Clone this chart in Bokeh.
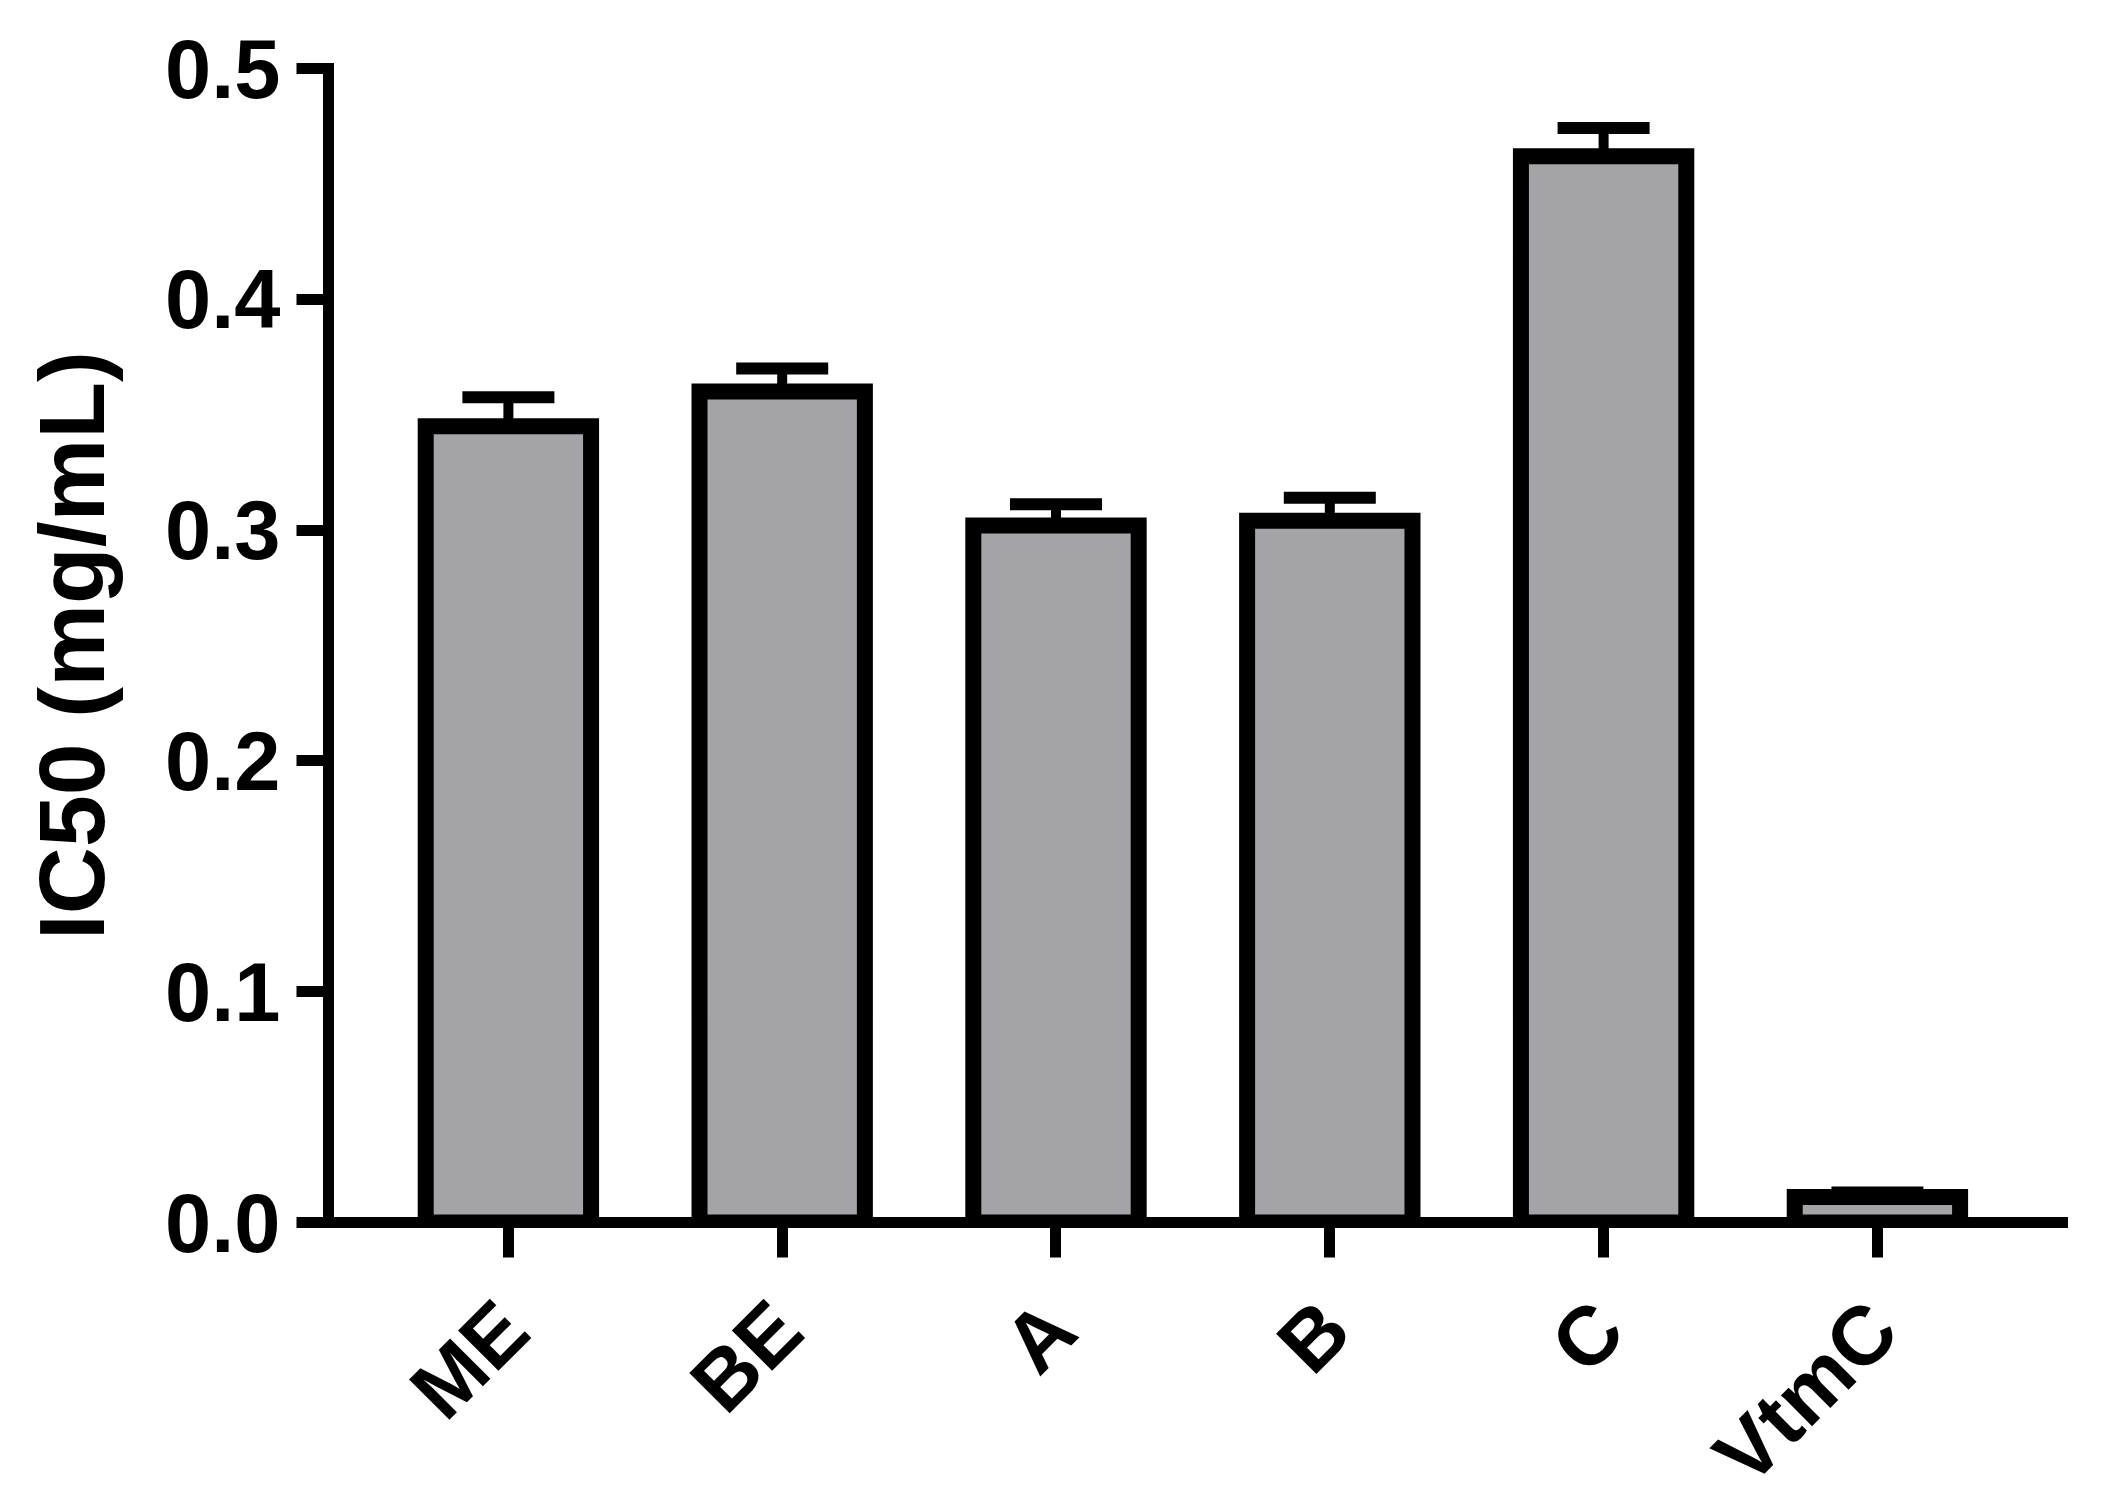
import math
from bokeh.plotting import figure
from bokeh.layouts import column
from bokeh.models import ColumnDataSource, FixedTicker, NumeralTickFormatter, Range1d
from bokeh.core.properties import value
from bokeh.embed import file_html
from bokeh.resources import INLINE

# ---- data ----
categories = ["ME", "BE", "A", "B", "C", "VtmC"]
ic50_mean = [0.345, 0.360, 0.302, 0.304, 0.462, 0.011]
ic50_sd = [0.0126, 0.0100, 0.0092, 0.0100, 0.0122, 0.0020]
y_ticks = [0.0, 0.1, 0.2, 0.3, 0.4, 0.5]
y_title = "IC50 (mg/mL)"

# ---- layout / styling constants ----
FONT = "Liberation Sans"
BAR_W = 0.604
CAP_HALF = 0.168
FIG_W = 2088
B_LEFT, B_RIGHT, B_TOP = 328, 26, 68
AXIS_PX = 1222                      # pixel row of y = 0 (bottom of the plot frame)
H1 = 1282                           # main figure height (frame + tick area)
H2 = 212                            # strip below holding the rotated category names
LABEL_DROP_PX = 93                  # distance of each name's end below the axis
label_y = -(AXIS_PX + LABEL_DROP_PX - H1)

xs = list(range(len(categories)))
upper = [m + s for m, s in zip(ic50_mean, ic50_sd)]
src = ColumnDataSource(dict(
    x=xs, top=ic50_mean, upper=upper,
    cap_l=[i - CAP_HALF for i in xs], cap_r=[i + CAP_HALF for i in xs],
))
lab_src = ColumnDataSource(dict(x=xs, y=[label_y] * len(xs), text=categories))

x_range = Range1d(-0.657, 5.676)

p = figure(width=FIG_W, height=H1,
           x_range=x_range, y_range=Range1d(0, 0.5),
           output_backend="svg", toolbar_location=None,
           min_border_left=B_LEFT, min_border_right=B_RIGHT,
           min_border_top=B_TOP, min_border_bottom=H1 - AXIS_PX)
p.outline_line_color = None
p.grid.visible = False
p.background_fill_color = "white"
p.border_fill_color = "white"

p.vbar(x="x", top="top", bottom=0, width=BAR_W, source=src,
       fill_color="#a4a3a8", line_color="black", line_width=16, line_join="miter")
p.segment(x0="x", y0="top", x1="x", y1="upper", source=src,
          line_color="black", line_width=10)
p.segment(x0="cap_l", y0="upper", x1="cap_r", y1="upper", source=src,
          line_color="black", line_width=12)

# x axis: ticks only (names drawn in the strip below)
xa = p.xaxis[0]
xa.ticker = FixedTicker(ticks=xs)
xa.major_label_overrides = {i: "" for i in xs}
xa.major_label_text_font_size = "1px"
xa.major_label_standoff = 0
xa.major_tick_out = 35
xa.major_tick_in = 0
xa.major_tick_line_width = 11
xa.major_tick_line_color = "black"
xa.minor_tick_line_color = None
xa.axis_line_width = 11
xa.axis_line_color = "black"
xa.axis_line_cap = "square"

# y axis
ya = p.yaxis[0]
ya.ticker = FixedTicker(ticks=y_ticks)
ya.formatter = NumeralTickFormatter(format="0.0")
ya.major_label_text_font = FONT
ya.major_label_text_font_style = "bold"
ya.major_label_text_font_size = "83px"
ya.major_label_text_color = "black"
ya.major_label_standoff = 16
ya.major_tick_out = 32
ya.major_tick_in = 0
ya.major_tick_line_width = 11
ya.major_tick_line_color = "black"
ya.minor_tick_line_color = None
ya.axis_line_width = 11
ya.axis_line_color = "black"
ya.axis_line_cap = "square"
ya.axis_label = y_title
ya.axis_label_text_font = FONT
ya.axis_label_text_font_style = "bold"
ya.axis_label_text_font_size = "93px"
ya.axis_label_text_color = "black"
ya.axis_label_standoff = 38

# strip below: category names, rotated 45 degrees, ending under each tick
p2 = figure(width=FIG_W, height=H2,
            x_range=x_range, y_range=Range1d(-H2, 0),
            x_axis_location=None, y_axis_location=None,
            output_backend="svg", toolbar_location=None,
            min_border_left=B_LEFT, min_border_right=B_RIGHT,
            min_border_top=0, min_border_bottom=0)
p2.outline_line_color = None
p2.grid.visible = False
p2.background_fill_color = "white"
p2.border_fill_color = "white"
p2.text(x="x", y="y", text="text", source=lab_src,
        angle=math.pi / 4, text_align="right", text_baseline="middle",
        x_offset=5,
        text_font=value(FONT), text_font_style="bold",
        text_font_size=value("83px"), text_color="black")

layout = column(p, p2, spacing=0)
open("out.html", "w").write(file_html(layout, INLINE))
